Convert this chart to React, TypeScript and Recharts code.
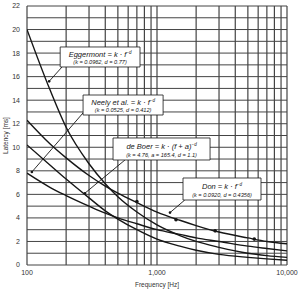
import React from "react";
import {
  ComposedChart, Line, Scatter, XAxis, YAxis, ReferenceLine, ReferenceArea, ReferenceDot, Label,
} from "recharts";

// sample frequencies [Hz]
const freqs = [100, 150, 200, 300, 400, 500, 700, 1000, 1500, 2000, 3000, 5000, 7000, 10000];
// latency [ms]
const eggermont = [20, 14.9, 11.7, 8.6, 6.9, 5.8, 4.5, 3.4, 2.5, 2.0, 1.5, 1.0, 0.8, 0.65];
const neely = [7.8, 6.6, 5.9, 5.0, 4.4, 4.0, 3.5, 3.0, 2.6, 2.3, 2.0, 1.6, 1.4, 1.2];
const deBoer = [10.2, 8.5, 7.3, 5.7, 4.6, 3.9, 3.0, 2.2, 1.6, 1.25, 0.9, 0.65, 0.52, 0.4];
const don = [12.3, 10.3, 9.1, 7.6, 6.7, 6.1, 5.3, 4.5, 3.8, 3.35, 2.8, 2.3, 2.0, 1.8];

// measured points on the Don curve
const dotFreqs = [700, 1400, 2800, 5600];
const dotValues = [5.4, 3.85, 2.9, 2.2];

const xTicks = [100, 1000, 10000];
const yTicks = [0, 2, 4, 6, 8, 10, 12, 14, 16, 18, 20, 22];
const xGrid = [100, 200, 300, 400, 500, 600, 700, 800, 900, 1000, 2000, 3000, 4000, 5000, 6000, 7000, 8000, 9000, 10000];
const yGrid = Array.from({ length: 23 }, (_, i) => i);

const chartData = freqs.map((f, i) => ({
  f, egg: eggermont[i], neely: neely[i], deBoer: deBoer[i], don: don[i],
}));
const dotData = dotFreqs.map((f, i) => ({ f, v: dotValues[i] }));

const FONT = "'Liberation Sans', Arial, sans-serif";
const GRID = "#444";
const INK = "#161616";

const boxes = [
  { x1: 180, x2: 740, y1: 16.82, y2: 18.52, name: "Eggermont", fn: "k · f", sub: "(k = 0.0962, d = 0.77)" },
  { x1: 270, x2: 1114, y1: 12.74, y2: 14.44, name: "Neely et al.", fn: "k · f", sub: "(k = 0.0525, d = 0.412)" },
  { x1: 459, x2: 2559, y1: 8.92, y2: 10.79, name: "de Boer", fn: "k · (f + a)", sub: "(k = 4.76, a = 165.4, d = 1.1)" },
  { x1: 1585, x2: 6310, y1: 5.52, y2: 7.39, name: "Don", fn: "k · f", sub: "(k = 0.0920, d = 0.4356)" },
];

const arrows = [
  { from: { x: 186, y: 16.82 }, to: { x: 148, y: 15.6 } },
  { from: { x: 279, y: 13.1 }, to: { x: 109, y: 7.9 } },
  { from: { x: 567, y: 8.92 }, to: { x: 279, y: 6.1 } },
  { from: { x: 1636, y: 5.52 }, to: { x: 1259, y: 4.45 } },
];

function BoxText(props: any) {
  const { viewBox, name, fn, sub } = props;
  const { x, y, width, height } = viewBox;
  const cx = x + width / 2;
  return (
    <text textAnchor="middle" fontFamily={FONT} fontStyle="italic" fill={INK}>
      <tspan x={cx} y={y + height * 0.5} fontSize={7.5}>
        {name} = {fn}
        <tspan dy={-3} fontSize={4.5}>−d</tspan>
      </tspan>
      <tspan x={cx} y={y + height * 0.87} fontSize={5.6}>{sub}</tspan>
    </text>
  );
}

export default function App() {
  return (
    <div style={{ position: "absolute", left: 0, top: 0, background: "#fff" }}>
      <ComposedChart width={298} height={292} data={chartData} margin={{ top: 6, right: 11, bottom: 0, left: 0 }}>
        <XAxis
          dataKey="f" type="number" scale="log" domain={[100, 10000]} ticks={xTicks} allowDataOverflow
          height={27} axisLine={false} tickLine={false} tickSize={3} tickMargin={2}
          tick={{ fontSize: 7, fill: "#333", fontFamily: FONT }}
          tickFormatter={(v) => Number(v).toLocaleString("en-US")}
        >
          <Label value="Frequency [Hz]" position="insideBottom" offset={5} fontSize={6.5} fill="#333" fontFamily={FONT} />
        </XAxis>
        <YAxis
          type="number" domain={[0, 22]} ticks={yTicks} width={27} axisLine={false} tickLine={false}
          tickSize={4} tickMargin={3} tick={{ fontSize: 7, fill: "#333", fontFamily: FONT }}
          label={({ viewBox }: any) => (
            <text
              transform={`translate(${viewBox.x + 8}, ${viewBox.y + viewBox.height / 2}) rotate(-90)`}
              textAnchor="middle" fontSize={6.5} fill="#333" fontFamily={FONT}
            >
              Latency [ms]
            </text>
          )}
        />
        {yGrid.map((v) => (
          <ReferenceLine key={`h${v}`} y={v} stroke={GRID} strokeWidth={1} zIndex={100} />
        ))}
        {xGrid.map((f) => (
          <ReferenceLine key={`v${f}`} x={f} stroke={GRID} strokeWidth={1.2} zIndex={100} />
        ))}
        <Line dataKey="egg" type="monotone" stroke={INK} strokeWidth={1.4} dot={false} isAnimationActive={false} />
        <Line dataKey="neely" type="monotone" stroke={INK} strokeWidth={1.4} dot={false} isAnimationActive={false} />
        <Line dataKey="deBoer" type="monotone" stroke={INK} strokeWidth={1.4} dot={false} isAnimationActive={false} />
        <Line dataKey="don" type="monotone" stroke={INK} strokeWidth={1.4} dot={false} isAnimationActive={false} />
        <Scatter data={dotData} dataKey="v" fill={INK} isAnimationActive={false}
          shape={(p: any) => <circle cx={p.cx} cy={p.cy} r={1.8} fill={INK} />} />
        {arrows.map((a, i) => (
          <ReferenceLine key={`a${i}`} segment={[a.from, a.to]} stroke={INK} strokeWidth={0.9} zIndex={1500} />
        ))}
        {arrows.map((a, i) => (
          <ReferenceDot key={`d${i}`} x={a.to.x} y={a.to.y} r={1.3} fill={INK} stroke="none" zIndex={1500} />
        ))}
        {boxes.map((b) => (
          <ReferenceArea
            key={b.name} x1={b.x1} x2={b.x2} y1={b.y1} y2={b.y2} zIndex={2000}
            fill="#fff" fillOpacity={1} stroke={INK} strokeWidth={0.8}
            label={(p: any) => <BoxText {...p} name={b.name} fn={b.fn} sub={b.sub} />}
          />
        ))}
      </ComposedChart>
    </div>
  );
}
